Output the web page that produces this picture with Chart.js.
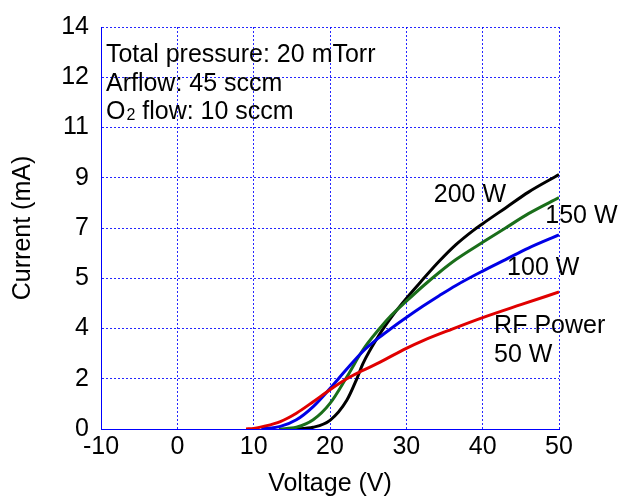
<!DOCTYPE html>
<html>
<head>
<meta charset="utf-8">
<script src="https://cdn.jsdelivr.net/npm/chart.js@4/dist/chart.umd.min.js"></script>
<style>
  html, body { margin: 0; padding: 0; background: #fff; }
  canvas { display: block; }
</style>
</head>
<body>
<canvas id="ivChart" width="618" height="501"></canvas>
<script>
/* ===============================
   DATA
================================ */
const v50  = [9, 10, 11.3, 13.5, 15.6, 17.8, 20, 22.2, 24.3, 26.5, 30, 32.2, 36, 40, 45, 50];
const i50  = [0, 0.02, 0.09, 0.26, 0.55, 0.95, 1.37, 1.75, 2.04, 2.32, 2.81, 3.08, 3.48, 3.88, 4.33, 4.77];

const v100 = [11, 13.5, 15.6, 17.8, 20, 22.2, 24.3, 26.5, 28, 30, 32.2, 34.3, 36.5, 40, 43, 46, 50];
const i100 = [0, 0.09, 0.32, 0.78, 1.41, 2.09, 2.7, 3.2, 3.5, 3.88, 4.28, 4.64, 5.0, 5.5, 5.9, 6.3, 6.76];

const v150 = [13.3, 15.6, 17.8, 20, 22.2, 24.3, 26.5, 28, 30, 32.2, 34.3, 36.5, 40, 43, 46, 50];
const i150 = [0, 0.06, 0.32, 0.89, 1.81, 2.75, 3.5, 3.95, 4.45, 4.98, 5.45, 5.9, 6.5, 7.0, 7.5, 8.06];

const v200 = [15.2, 17.8, 20, 22.2, 23.5, 24.3, 26.5, 28, 30, 32.2, 34.3, 36.5, 38.7, 40, 43, 46, 50];
const i200 = [0, 0.06, 0.3, 1.0, 1.74, 2.27, 3.3, 3.88, 4.55, 5.22, 5.84, 6.42, 6.9, 7.15, 7.7, 8.25, 8.86];

const xTicks = [-10, 0, 10, 20, 30, 40, 50];
const yStep = 1.75;   // axis 0..14 in 8 steps, labels shown rounded
const yMax = 14;

const FONT = "'Liberation Sans', Arial, sans-serif";
const BLUE_GRID = "rgba(0,0,255,0.85)";

const toPoints = (xs, ys) => xs.map((x, i) => ({ x, y: ys[i] }));

/* ===============================
   TEXT NOTES ON THE PLOT
================================ */
const notes = [
  { text: "Total pressure: 20 mTorr", x: -9.35, y: 13.02 },
  { text: "Arflow: 45 sccm",          x: -9.35, y: 12.02 },
  { text: "O2 flow: 10 sccm",         x: -9.35, y: 11.02, sub: true },
  { text: "200 W",    x: 33.6, y: 8.13 },
  { text: "150 W",    x: 48.2, y: 7.41 },
  { text: "100 W",    x: 43.2, y: 5.61 },
  { text: "RF Power", x: 41.5, y: 3.58 },
  { text: "50 W",     x: 41.5, y: 2.58 }
];

const notesPlugin = {
  id: "notes",
  afterDatasetsDraw(chart) {
    const { ctx, scales: { x, y } } = chart;
    ctx.save();
    ctx.fillStyle = "#000";
    ctx.textBaseline = "middle";
    ctx.textAlign = "left";
    notes.forEach(n => {
      let px = x.getPixelForValue(n.x);
      const py = y.getPixelForValue(n.y);
      ctx.font = "25px " + FONT;
      if (n.sub) {
        // O with a small subscript 2
        ctx.fillText("O", px, py);
        px += ctx.measureText("O").width;
        ctx.font = "16px " + FONT;
        ctx.fillText("2", px + 1, py + 3);
        px += ctx.measureText("2").width + 1;
        ctx.font = "25px " + FONT;
        ctx.fillText(" flow: 10 sccm", px, py);
      } else {
        ctx.fillText(n.text, px, py);
      }
    });
    ctx.restore();
  }
};

/* ===============================
   CHART
================================ */
const line = (data, color) => ({
  data,
  borderColor: color,
  borderWidth: 3,
  pointRadius: 0,
  fill: false,
  cubicInterpolationMode: "monotone"
});

new Chart(document.getElementById("ivChart"), {
  type: "line",
  data: {
    datasets: [
      line(toPoints(v50, i50), "#e00000"),
      line(toPoints(v100, i100), "#0000e6"),
      line(toPoints(v150, i150), "#1a6e1a"),
      line(toPoints(v200, i200), "#000000")
    ]
  },
  options: {
    responsive: false,
    animation: false,
    layout: { padding: { top: 22, right: 59, bottom: 0, left: 0 } },
    plugins: { legend: { display: false }, tooltip: { enabled: false } },
    scales: {
      x: {
        type: "linear",
        min: xTicks[0],
        max: xTicks[xTicks.length - 1],
        afterBuildTicks: s => { s.ticks = xTicks.map(v => ({ value: v })); },
        afterFit: s => { s.height = 72; },
        ticks: { color: "#000", font: { family: FONT, size: 25 }, padding: 3, maxRotation: 0 },
        grid: { color: BLUE_GRID, lineWidth: 1, drawTicks: false },
        border: { display: true, color: "#0000ff", width: 1, dash: [2, 2] },
        title: { display: true, text: "Voltage (V)", color: "#000", font: { family: FONT, size: 25 }, padding: { top: 0, bottom: 2 } }
      },
      y: {
        min: 0,
        max: yMax,
        afterFit: s => { s.width = 101; },
        ticks: {
          stepSize: yStep,
          autoSkip: false,
          color: "#000",
          font: { family: FONT, size: 25 },
          padding: 12,
          callback: v => Math.round(v)
        },
        grid: { color: BLUE_GRID, lineWidth: 1, drawTicks: false },
        border: { display: true, color: "#0000ff", width: 1, dash: [2, 2] },
        title: { display: true, text: "Current (mA)", color: "#000", font: { family: FONT, size: 25 }, padding: { top: 8, bottom: 0 } }
      }
    }
  },
  plugins: [notesPlugin]
});
</script>
</body>
</html>
